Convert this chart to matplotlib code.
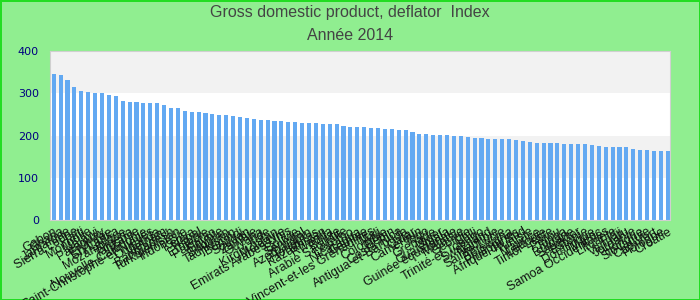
import matplotlib
matplotlib.use("Agg")
import matplotlib.pyplot as plt
import numpy as np

countries = [
    "Gabon", "Ghana", "Jamaïque", "Sierra Leone", "Haïti", "Mongolie", "Malawi",
    "Paraguay", "Erythrée", "Sri Lanka", "Mozambique", "Nigéria", "Tanzanie",
    "Nouvelle-Calédonie", "Saint-Christophe-et-Niévès", "Ouganda", "Vietnam",
    "Bangladesh", "Turkménistan", "Indonésie", "Kenya", "Népal", "Ethiopie",
    "Pakistan", "Egypte", "Bhoutan", "Tadjikistan", "Burundi", "Soudan", "Zambie",
    "Guyana", "Inde", "Kirghizistan", "Moldavie", "Emirats Arabes Unis", "Bolivie",
    "Sénégal", "Azerbaïdjan", "Honduras", "Kazakhstan", "Rwanda", "Belize",
    "Arabie Saoudite", "Lesotho", "Nicaragua", "Gambie",
    "Saint-Vincent-et-les Grenadines", "Mali", "Colombie", "Bénin", "Costa Rica",
    "Antigua-et-Barbuda", "Qatar", "Cameroun", "Togo", "Grenade", "Niger",
    "Guatemala", "Guinée équatoriale", "Malaisie", "Géorgie", "Chili",
    "Trinité-et-Tobago", "Swaziland", "Namibie", "Sainte-Lucie", "Botswana",
    "Philippines", "Afrique du Sud", "Tunisie", "Maurice", "Lettonie",
    "Timor-Leste", "Pérou", "Tonga", "Bulgarie", "Salvador", "Estonie",
    "Dominique", "Maroc", "Samoa Occidentales", "Lituanie", "Fidji", "Vanuatu",
    "Jordanie", "Hongrie", "Slovaquie", "Cap-Vert", "Pologne", "Croatie",
]

values = [
    345.6, 343.2, 331.4, 314.8, 305.3, 303.0, 300.6, 300.6, 295.9, 293.5,
    281.7, 279.3, 279.3, 276.9, 276.9, 276.9, 272.2, 265.1, 265.1, 258.0,
    255.6, 255.6, 253.3, 250.9, 248.5, 248.5, 246.2, 243.8, 241.4, 239.1,
    236.7, 236.7, 234.3, 234.3, 231.9, 231.9, 229.6, 229.6, 229.6, 227.2,
    227.2, 227.2, 222.5, 220.1, 220.1, 220.1, 217.8, 217.8, 215.4, 215.4,
    213.0, 213.0, 208.3, 203.6, 203.6, 201.2, 201.2, 201.2, 198.8, 198.8,
    196.4, 194.1, 194.1, 191.7, 191.7, 191.7, 191.7, 189.3, 187.0, 184.6,
    182.2, 182.2, 182.2, 182.2, 179.9, 179.9, 179.9, 179.9, 177.5, 175.1,
    172.8, 172.8, 172.8, 172.8, 168.0, 165.7, 165.7, 163.3, 163.3, 163.3,
]

yticks = [0, 100, 200, 300, 400]

fig = plt.figure(figsize=(7, 3), dpi=100)
fig.patch.set_facecolor("#90ee90")
fig.patch.set_edgecolor("#22dd22")
fig.patch.set_linewidth(2)

ax = fig.add_axes([50 / 700, 80 / 300, 620 / 700, 169 / 300])
ax.set_facecolor("white")
# alternating grey bands
for lo in (100, 300):
    ax.axhspan(lo, lo + 100, color="#f2f2f2", zorder=0, lw=0)

x = np.arange(len(values))
ax.bar(x, values, width=0.6, color="#63a9f2", zorder=2)

ax.set_xlim(-0.54, len(values) - 0.68)
ax.set_ylim(0, 400)
ax.set_yticks(yticks)
ax.set_yticklabels([str(t) for t in yticks], color="#000080",
                   fontsize=8, family="DejaVu Sans")
ax.set_xticks(x)
ax.set_xticklabels(countries, rotation=30, ha="right", rotation_mode="anchor",
                   fontsize=9, family="Liberation Sans", color="#111111")
ax.tick_params(axis="both", length=0)
ax.tick_params(axis="y", pad=8)
ax.tick_params(axis="x", pad=4)
for s in ax.spines.values():
    s.set_color("#d0d0d0")

fig.text(0.5, 0.958, "Gross domestic product, deflator  Index", ha="center",
         va="center", fontsize=11.5, color="#444444", family="Liberation Sans")
fig.text(0.5, 0.88, "Année 2014", ha="center", va="center", fontsize=11.5,
         color="#444444", family="Liberation Sans")

fig.savefig("out.png", dpi=100, facecolor=fig.get_facecolor(),
            edgecolor=fig.get_edgecolor())
